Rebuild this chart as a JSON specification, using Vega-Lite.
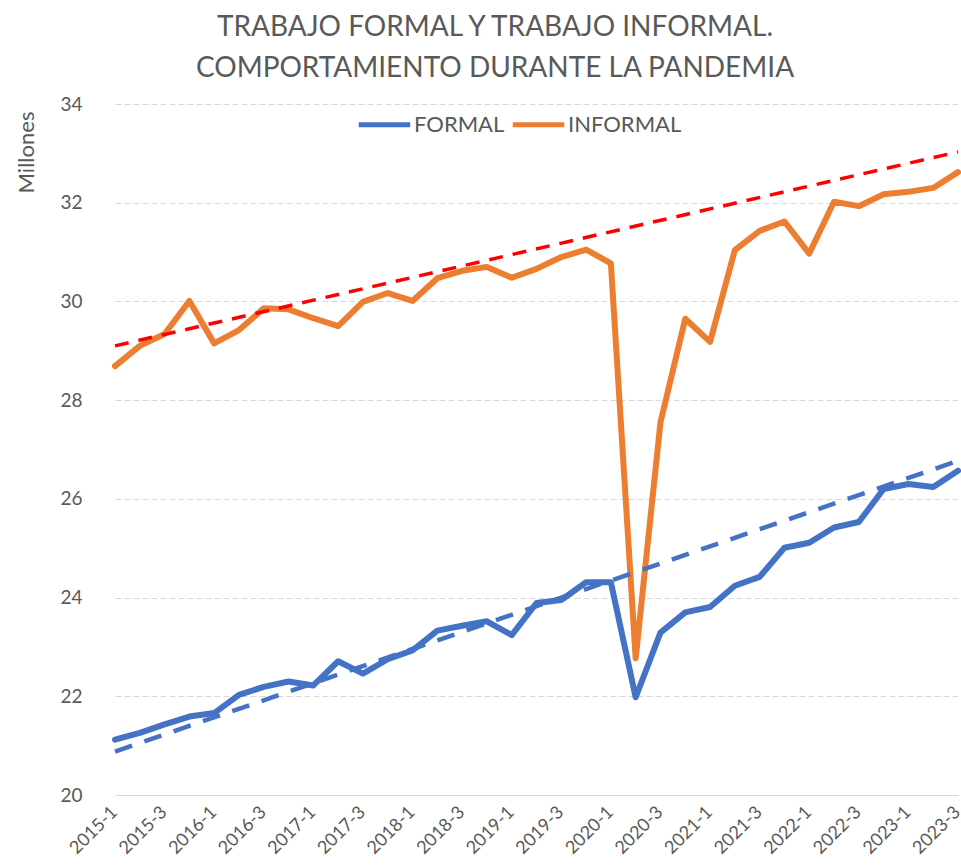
{
  "$schema": "https://vega.github.io/schema/vega-lite/v6.json",
  "width": 858,
  "height": 691,
  "autosize": {"type": "none"},
  "padding": {"left": 103, "top": 104, "right": 0, "bottom": 71},
  "background": "white",
  "config": {"font": "Lato", "view": {"stroke": null}},
  "title": {
    "text": ["TRABAJO FORMAL Y TRABAJO INFORMAL.", "COMPORTAMIENTO DURANTE LA PANDEMIA"],
    "fontSize": 28,
    "fontWeight": "normal",
    "color": "#595959",
    "font": "Lato",
    "anchor": "middle",
    "frame": "group",
    "dx": -37,
    "lineHeight": 41,
    "offset": 12
  },
  "datasets": {
    "series": [
      {"q": "2015-1", "serie": "FORMAL", "v": 21.12},
      {"q": "2015-2", "serie": "FORMAL", "v": 21.26},
      {"q": "2015-3", "serie": "FORMAL", "v": 21.43},
      {"q": "2015-4", "serie": "FORMAL", "v": 21.59},
      {"q": "2016-1", "serie": "FORMAL", "v": 21.66},
      {"q": "2016-2", "serie": "FORMAL", "v": 22.03},
      {"q": "2016-3", "serie": "FORMAL", "v": 22.19},
      {"q": "2016-4", "serie": "FORMAL", "v": 22.30},
      {"q": "2017-1", "serie": "FORMAL", "v": 22.22},
      {"q": "2017-2", "serie": "FORMAL", "v": 22.71},
      {"q": "2017-3", "serie": "FORMAL", "v": 22.46},
      {"q": "2017-4", "serie": "FORMAL", "v": 22.75},
      {"q": "2018-1", "serie": "FORMAL", "v": 22.93},
      {"q": "2018-2", "serie": "FORMAL", "v": 23.33},
      {"q": "2018-3", "serie": "FORMAL", "v": 23.43},
      {"q": "2018-4", "serie": "FORMAL", "v": 23.52},
      {"q": "2019-1", "serie": "FORMAL", "v": 23.24},
      {"q": "2019-2", "serie": "FORMAL", "v": 23.89},
      {"q": "2019-3", "serie": "FORMAL", "v": 23.95},
      {"q": "2019-4", "serie": "FORMAL", "v": 24.31},
      {"q": "2020-1", "serie": "FORMAL", "v": 24.31},
      {"q": "2020-2", "serie": "FORMAL", "v": 21.98},
      {"q": "2020-3", "serie": "FORMAL", "v": 23.29},
      {"q": "2020-4", "serie": "FORMAL", "v": 23.70},
      {"q": "2021-1", "serie": "FORMAL", "v": 23.81},
      {"q": "2021-2", "serie": "FORMAL", "v": 24.24},
      {"q": "2021-3", "serie": "FORMAL", "v": 24.42},
      {"q": "2021-4", "serie": "FORMAL", "v": 25.01},
      {"q": "2022-1", "serie": "FORMAL", "v": 25.11},
      {"q": "2022-2", "serie": "FORMAL", "v": 25.42},
      {"q": "2022-3", "serie": "FORMAL", "v": 25.53},
      {"q": "2022-4", "serie": "FORMAL", "v": 26.20},
      {"q": "2023-1", "serie": "FORMAL", "v": 26.30},
      {"q": "2023-2", "serie": "FORMAL", "v": 26.24},
      {"q": "2023-3", "serie": "FORMAL", "v": 26.57},
      {"q": "2015-1", "serie": "INFORMAL", "v": 28.69},
      {"q": "2015-2", "serie": "INFORMAL", "v": 29.10},
      {"q": "2015-3", "serie": "INFORMAL", "v": 29.34},
      {"q": "2015-4", "serie": "INFORMAL", "v": 30.01},
      {"q": "2016-1", "serie": "INFORMAL", "v": 29.15},
      {"q": "2016-2", "serie": "INFORMAL", "v": 29.42},
      {"q": "2016-3", "serie": "INFORMAL", "v": 29.86},
      {"q": "2016-4", "serie": "INFORMAL", "v": 29.84},
      {"q": "2017-1", "serie": "INFORMAL", "v": 29.66},
      {"q": "2017-2", "serie": "INFORMAL", "v": 29.50},
      {"q": "2017-3", "serie": "INFORMAL", "v": 29.99},
      {"q": "2017-4", "serie": "INFORMAL", "v": 30.17},
      {"q": "2018-1", "serie": "INFORMAL", "v": 30.01},
      {"q": "2018-2", "serie": "INFORMAL", "v": 30.47},
      {"q": "2018-3", "serie": "INFORMAL", "v": 30.62},
      {"q": "2018-4", "serie": "INFORMAL", "v": 30.70},
      {"q": "2019-1", "serie": "INFORMAL", "v": 30.48},
      {"q": "2019-2", "serie": "INFORMAL", "v": 30.66},
      {"q": "2019-3", "serie": "INFORMAL", "v": 30.90},
      {"q": "2019-4", "serie": "INFORMAL", "v": 31.05},
      {"q": "2020-1", "serie": "INFORMAL", "v": 30.77},
      {"q": "2020-2", "serie": "INFORMAL", "v": 22.77},
      {"q": "2020-3", "serie": "INFORMAL", "v": 27.55},
      {"q": "2020-4", "serie": "INFORMAL", "v": 29.65},
      {"q": "2021-1", "serie": "INFORMAL", "v": 29.18},
      {"q": "2021-2", "serie": "INFORMAL", "v": 31.04},
      {"q": "2021-3", "serie": "INFORMAL", "v": 31.43},
      {"q": "2021-4", "serie": "INFORMAL", "v": 31.62},
      {"q": "2022-1", "serie": "INFORMAL", "v": 30.97},
      {"q": "2022-2", "serie": "INFORMAL", "v": 32.02},
      {"q": "2022-3", "serie": "INFORMAL", "v": 31.93},
      {"q": "2022-4", "serie": "INFORMAL", "v": 32.17},
      {"q": "2023-1", "serie": "INFORMAL", "v": 32.22},
      {"q": "2023-2", "serie": "INFORMAL", "v": 32.30},
      {"q": "2023-3", "serie": "INFORMAL", "v": 32.62}
    ],
    "trend_formal": [
      {"q": "2015-1", "v": 20.88},
      {"q": "2023-3", "v": 26.77}
    ],
    "trend_informal": [
      {"q": "2015-1", "v": 29.10},
      {"q": "2023-3", "v": 33.03}
    ]
  },
  "encoding": {
    "x": {
      "field": "q",
      "type": "ordinal",
      "sort": null,
      "scale": {
        "type": "point",
        "padding": 0,
        "range": [12, 855],
        "domain": ["2015-1","2015-2","2015-3","2015-4","2016-1","2016-2","2016-3","2016-4","2017-1","2017-2","2017-3","2017-4","2018-1","2018-2","2018-3","2018-4","2019-1","2019-2","2019-3","2019-4","2020-1","2020-2","2020-3","2020-4","2021-1","2021-2","2021-3","2021-4","2022-1","2022-2","2022-3","2022-4","2023-1","2023-2","2023-3"]
      },
      "axis": {
        "title": null,
        "values": ["2015-1","2015-3","2016-1","2016-3","2017-1","2017-3","2018-1","2018-3","2019-1","2019-3","2020-1","2020-3","2021-1","2021-3","2022-1","2022-3","2023-1","2023-3"],
        "labelAngle": -45,
        "labelFontSize": 18,
        "labelColor": "#595959",
        "labelPadding": 8,
        "labelOffset": -7,
        "ticks": false,
        "grid": false,
        "domainColor": "#d9d9d9",
        "domainWidth": 1
      }
    },
    "y": {
      "field": "v",
      "type": "quantitative",
      "scale": {"domain": [20, 34], "nice": false, "zero": false},
      "axis": {
        "values": [20, 22, 24, 26, 28, 30, 32, 34],
        "grid": true,
        "gridColor": "#d9d9d9",
        "gridDash": [6, 3],
        "gridWidth": 1,
        "domain": false,
        "ticks": false,
        "labelFontSize": 19,
        "labelColor": "#595959",
        "labelPadding": 21,
        "title": "Millones",
        "titleFontSize": 22,
        "titleFontWeight": "normal",
        "titleColor": "#595959",
        "titleAngle": -90,
        "titleX": -77,
        "titleY": 48,
        "titleAlign": "center",
        "titleBaseline": "middle"
      }
    }
  },
  "layer": [
    {
      "data": {"name": "series"},
      "mark": {"type": "line", "strokeWidth": 6, "strokeCap": "round", "strokeJoin": "round"},
      "encoding": {
        "color": {
          "field": "serie",
          "type": "nominal",
          "scale": {"domain": ["FORMAL", "INFORMAL"], "range": ["#4472C4", "#ED7D31"]},
          "legend": {
            "orient": "none",
            "legendX": 253,
            "legendY": -8,
            "direction": "horizontal",
            "title": null,
            "symbolType": "stroke",
            "symbolSize": 2650,
            "symbolStrokeWidth": 5,
            "labelFontSize": 22,
            "labelColor": "#595959",
            "labelOffset": 1,
            "columnPadding": -3,
            "padding": 0
          }
        }
      }
    },
    {
      "data": {"name": "trend_formal"},
      "mark": {"type": "line", "strokeWidth": 4.5, "strokeDash": [18, 13], "color": "#4472C4"},
      "encoding": {}
    },
    {
      "data": {"name": "trend_informal"},
      "mark": {"type": "line", "strokeWidth": 3.5, "strokeDash": [14, 10], "color": "#FF0000"},
      "encoding": {}
    }
  ]
}
